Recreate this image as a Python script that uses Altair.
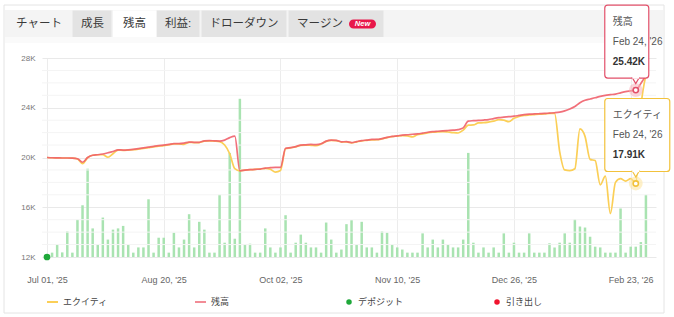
import json
import altair as alt
import pandas as pd

# ---------------- data ----------------
TAB_LABELS = ["チャート", "成長", "残高", "利益:", "ドローダウン", "マージン"]
BADGE_LABEL = "New"
LEGEND_LABELS = ["エクイティ", "残高", "デポジット", "引き出し"]
TICK_IDX = [0, 23, 46, 69, 92, 115]
TICK_LABELS = ["Jul 01, '25", "Aug 20, '25", "Oct 02, '25", "Nov 10, '25", "Dec 26, '25", "Feb 23, '26"]
Y_TICKS = [12, 16, 20, 24, 28]
Y_MINOR = [13, 14, 15, 17, 18, 19, 21, 22, 23, 25, 26, 27]

# bar heights (relative volume units, 1 unit = 1K of the price axis)
VOL = [0, 0.35, 1.0, 0.37, 2.05, 0.35, 3.0, 4.16, 7.1, 2.3,
       1.0, 3.17, 1.4, 2.2, 2.3, 2.5, 1.0, 0.35, 0.77, 0.77,
       4.64, 0.35, 1.55, 1.55, 0.35, 1.95, 0.77, 1.4, 3.44, 0.77,
       2.83, 2.2, 0.35, 0.35, 5.0, 1.15, 8.37, 1.47, 12.72, 1.0,
       1.07, 0.35, 0.35, 2.3, 0.77, 0.35, 0.77, 3.36, 0.35, 1.15,
       1.8, 1.15, 0.77, 0.77, 0.35, 2.77, 1.4, 0.35, 0.6, 2.64,
       2.96, 1.0, 2.83, 0.77, 0.77, 0.35, 2.05, 1.95, 1.0, 0.77,
       0.6, 0.35, 0.35, 0.35, 1.9, 0.77, 1.4, 0.77, 1.4, 1.0,
       0.77, 0.77, 1.4, 8.37, 1.15, 0.35, 0.77, 0.35, 0.77, 0.35,
       1.9, 0.35, 1.15, 0.35, 0.35, 1.9, 0.35, 0.35, 0.35, 1.1,
       0.77, 1.15, 1.9, 1.15, 3.04, 2.45, 2.37, 1.63, 0.83, 0.77,
       0.35, 0.35, 0.35, 3.9, 0.35, 0.83, 0.83, 1.2, 5.0]

BALANCE = [20.00, 19.98, 19.97, 19.96, 19.96, 19.95, 19.90, 19.62, 20.00, 20.18,
           20.22, 20.28, 20.38, 20.48, 20.62, 20.60, 20.62, 20.66, 20.72, 20.78,
           20.84, 20.90, 20.95, 21.00, 21.05, 21.12, 21.12, 21.16, 21.24, 21.22,
           21.22, 21.34, 21.36, 21.34, 21.32, 21.40, 21.60, 21.72, 18.93, 18.98,
           19.02, 19.05, 19.07, 19.15, 19.18, 19.20, 19.20, 20.74, 20.80, 20.88,
           21.00, 21.02, 21.05, 21.03, 21.10, 21.32, 21.40, 21.38, 21.26, 21.27,
           21.20, 21.28, 21.36, 21.40, 21.45, 21.45, 21.52, 21.62, 21.70, 21.74,
           21.80, 21.83, 21.87, 21.90, 21.96, 22.03, 22.08, 22.11, 22.14, 22.17,
           22.20, 22.24, 22.38, 22.93, 22.96, 22.98, 23.01, 23.05, 23.13, 23.20,
           23.24, 23.28, 23.32, 23.38, 23.44, 23.48, 23.50, 23.52, 23.54, 23.57,
           23.60, 23.65, 23.75, 23.90, 24.10, 24.40, 24.60, 24.70, 24.80, 24.92,
           25.00, 25.05, 25.10, 25.20, 25.30, 25.36, 25.42, 25.95, 26.60]

EQUITY = [20.00, 19.98, 19.97, 19.96, 19.96, 19.95, 19.88, 19.50, 19.98, 20.18,
          20.22, 20.22, 20.02, 20.30, 20.60, 20.58, 20.60, 20.63, 20.68, 20.74,
          20.80, 20.86, 20.91, 20.96, 21.02, 21.10, 21.10, 21.06, 21.22, 21.20,
          21.20, 21.32, 21.34, 21.32, 21.28, 21.00, 20.30, 19.10, 18.93, 18.98,
          19.02, 19.05, 19.07, 19.12, 19.05, 18.82, 18.95, 20.70, 20.78, 20.86,
          20.98, 21.00, 20.98, 20.95, 21.08, 21.30, 21.38, 21.36, 21.24, 21.25,
          21.18, 21.26, 21.34, 21.38, 21.42, 21.43, 21.50, 21.60, 21.68, 21.72,
          21.76, 21.74, 21.66, 21.84, 21.90, 21.98, 22.03, 22.06, 22.08, 22.05,
          22.00, 21.97, 22.20, 22.60, 22.62, 22.78, 22.80, 22.85, 22.92, 23.05,
          23.00, 22.88, 23.15, 23.30, 23.38, 23.42, 23.45, 23.48, 23.50, 23.54,
          23.55, 20.50, 19.00, 18.95, 19.10, 22.30, 21.70, 19.85, 19.75, 17.80,
          18.50, 15.50, 18.00, 18.30, 18.10, 18.30, 17.91, 24.00, 26.60]

DEPOSIT_IDX = [0]
TT_IDX = 116
TT_DATE = "Feb 24, '26"
TT_BAL = 25.42
TT_EQ = 17.91

# ---------------- styles / layout ----------------
FONT = "Liberation Sans, Noto Sans CJK JP, sans-serif"
YEL = "#fbcf57"
RED = "#f0606b"
PINK = "#f28c96"
BAR = "#a9e3b1"
GREEN = "#1fa83a"
DOT_RED = "#f0142e"
W, H = 614, 199
X0, Y0 = 42, 58

xscale = alt.Scale(domain=[0, 119], nice=False, zero=False)
yscale = alt.Scale(domain=[12, 28], nice=False, zero=False)
xaxis = alt.Axis(values=TICK_IDX, labelExpr=f"{json.dumps(TICK_LABELS)}[round(datum.value/23)]",
                 grid=True, gridColor="#ececec", ticks=False, domain=False, title=None,
                 labelFontSize=9, labelColor="#666666", labelFont=FONT, labelPadding=18)
yaxis = alt.Axis(values=Y_TICKS, labelExpr="datum.value + 'K'", grid=True, gridColor="#e9e9e9",
                 ticks=False, domain=False, title=None, labelFontSize=8, labelColor="#777777",
                 labelFont=FONT, labelPadding=7)


def one():
    return alt.Chart(pd.DataFrame({"k": [0]}))


def rect(x1, y1, x2, y2, fill, stroke=None, radius=0, sw=1):
    kw = dict(fill=fill, cornerRadius=radius)
    if stroke:
        kw.update(stroke=stroke, strokeWidth=sw)
    return one().mark_rect(**kw).encode(
        x=alt.value(x1 - X0), x2=alt.value(x2 - X0), y=alt.value(y1 - Y0), y2=alt.value(y2 - Y0))


def text(s, x, y, size=9, color="#444444", weight="normal", align="left", style="normal"):
    return one().mark_text(text=s, fontSize=size, color=color, fontWeight=weight, align=align,
                           baseline="middle", font=FONT, fontStyle=style).encode(
        x=alt.value(x - X0), y=alt.value(y - Y0))


# ---------------- background decorations ----------------
deco = []
deco.append(rect(4, 5, 664, 313, "transparent", stroke="#e4e4e4"))
deco.append(rect(5, 10, 663, 37, "#f4f4f4"))
deco.append(rect(5, 37, 663, 43, "#fafafa"))
TAB_BOX = [(10, 71, "#f4f4f4"), (72.5, 111.5, "#e3e3e3"), (113, 156, "#ffffff"),
           (157, 199.5, "#e3e3e3"), (201.5, 286.5, "#e3e3e3"), (288.5, 383.5, "#e3e3e3")]
TAB_TX = [39, 92.5, 134.5, 178, 244, 320]
for (a, b, c), tx, lab in zip(TAB_BOX, TAB_TX, TAB_LABELS):
    deco.append(rect(a, 10.5, b, 37, c))
    deco.append(text(lab, tx, 24, size=11.5, color="#3a3a3a", align="center"))
deco.append(rect(349, 19.5, 376, 28.5, "#e8174a", radius=4.5))
deco.append(text(BADGE_LABEL, 362.5, 24.2, size=7.5, color="#ffffff", weight="bold", align="center", style="italic"))

# ---------------- data layers ----------------
bdf = pd.DataFrame({"idx": list(range(len(VOL))), "vol": VOL})
bars = alt.Chart(bdf).mark_bar(size=2.5, color=BAR).encode(
    x=alt.X("idx:Q", scale=xscale, axis=xaxis),
    y=alt.Y("vol:Q", scale=alt.Scale(domain=[0, 16], nice=False, zero=True), axis=None))

ldf = pd.DataFrame({"idx": list(range(len(BALANCE))), "bal": BALANCE, "eq": EQUITY})
mdf = pd.DataFrame({"v": Y_MINOR})
minor = alt.Chart(mdf).mark_rule(color="#f4f4f4", strokeWidth=1).encode(
    y=alt.Y("v:Q", scale=yscale, axis=yaxis))
eq_line = alt.Chart(ldf).mark_line(color=YEL, strokeWidth=1.7, interpolate="monotone").encode(
    x=alt.X("idx:Q", scale=xscale, axis=xaxis), y=alt.Y("eq:Q", scale=yscale, axis=yaxis))
bal_line = alt.Chart(ldf).mark_line(color=RED, strokeWidth=1.7, interpolate="monotone", opacity=0.9).encode(
    x=alt.X("idx:Q", scale=xscale, axis=xaxis), y=alt.Y("bal:Q", scale=yscale, axis=yaxis))
ddf = pd.DataFrame({"idx": DEPOSIT_IDX, "v": [12] * len(DEPOSIT_IDX)})
deposit = alt.Chart(ddf).mark_circle(size=45, color=GREEN, opacity=1).encode(
    x=alt.X("idx:Q", scale=xscale, axis=xaxis), y=alt.Y("v:Q", scale=yscale, axis=yaxis))


def tooltip(v, name, label, color, halo, left, right, top, bottom):
    d = pd.DataFrame({"idx": [TT_IDX], "v": [v], "name": [name], "date": [TT_DATE], "lab": [label]})
    base = alt.Chart(d).encode(x=alt.X("idx:Q", scale=xscale, axis=xaxis),
                               y=alt.Y("v:Q", scale=yscale, axis=yaxis))
    h = base.mark_circle(size=190, color=halo, opacity=0.55)
    ring = base.mark_point(size=28, filled=True, fill="#ffffff", stroke=color, strokeWidth=1.6, opacity=1)
    box = base.mark_rect(fill="#ffffff", stroke=color, strokeWidth=1.2, cornerRadius=3,
                         xOffset=left, x2Offset=right, yOffset=top, y2Offset=bottom).encode(
        x2=alt.X2("idx"), y2=alt.Y2("v"))
    ptr = base.mark_point(shape="triangle-down", size=45, filled=True, fill="#ffffff", stroke=color,
                          strokeWidth=1.2, opacity=1, yOffset=bottom + 2.6)
    cover = base.mark_rect(fill="#ffffff", xOffset=-3.5, x2Offset=3.5, yOffset=bottom - 1.5, y2Offset=bottom + 0.6).encode(
        x2=alt.X2("idx"), y2=alt.Y2("v"))
    t1 = base.mark_text(align="left", baseline="middle", dx=-23, dy=top + 17, fontSize=10,
                        color="#555555", font=FONT).encode(text="name:N")
    t2 = base.mark_text(align="left", baseline="middle", dx=-23, dy=top + 37, fontSize=10,
                        color="#555555", font=FONT).encode(text="date:N")
    t3 = base.mark_text(align="left", baseline="middle", dx=-23, dy=top + 57, fontSize=10,
                        color="#333333", fontWeight="bold", font=FONT).encode(text="lab:N")
    return [h, box, ptr, cover, ring, t1, t2, t3]


tt_bal = tooltip(TT_BAL, "残高", f"{TT_BAL:.2f}K", "#e2506a", "#f7b3bb", -31, 13, -85, -12)
tt_eq = tooltip(TT_EQ, "エクイティ", f"{TT_EQ:.2f}K", "#f2c23c", "#fde39a", -31, 34, -85, -12)

main = alt.layer(minor, eq_line, bal_line, deposit, *tt_eq, *tt_bal)

# ---------------- legend ----------------
leg = []
LEG_SWATCH_X = [47, 195, 349, 497]
LEG_TEXT_X = [63, 211, 358, 506]
LEG_Y = 302
leg.append(one().mark_rule(color=YEL, strokeWidth=2).encode(
    x=alt.value(LEG_SWATCH_X[0] - X0), x2=alt.value(LEG_SWATCH_X[0] + 11 - X0), y=alt.value(LEG_Y - Y0)))
leg.append(one().mark_rule(color=PINK, strokeWidth=2).encode(
    x=alt.value(LEG_SWATCH_X[1] - X0), x2=alt.value(LEG_SWATCH_X[1] + 11 - X0), y=alt.value(LEG_Y - Y0)))
leg.append(one().mark_circle(color=GREEN, size=30, opacity=1).encode(
    x=alt.value(LEG_SWATCH_X[2] - X0), y=alt.value(LEG_Y - Y0)))
leg.append(one().mark_circle(color=DOT_RED, size=30, opacity=1).encode(
    x=alt.value(LEG_SWATCH_X[3] - X0), y=alt.value(LEG_Y - Y0)))
for lab, tx in zip(LEGEND_LABELS, LEG_TEXT_X):
    leg.append(text(lab, tx, LEG_Y, size=9, color="#444444"))

chart = alt.layer(*deco, bars, main, *leg).resolve_scale(y="independent").properties(
    width=W, height=H,
    autosize=alt.AutoSizeParams(type="none"),
    padding={"left": X0, "top": Y0, "right": 674 - X0 - W, "bottom": 317 - Y0 - H},
    background="#ffffff",
).configure_view(stroke=None)

chart.save("out.html", embed_options={"renderer": "svg", "actions": False})
